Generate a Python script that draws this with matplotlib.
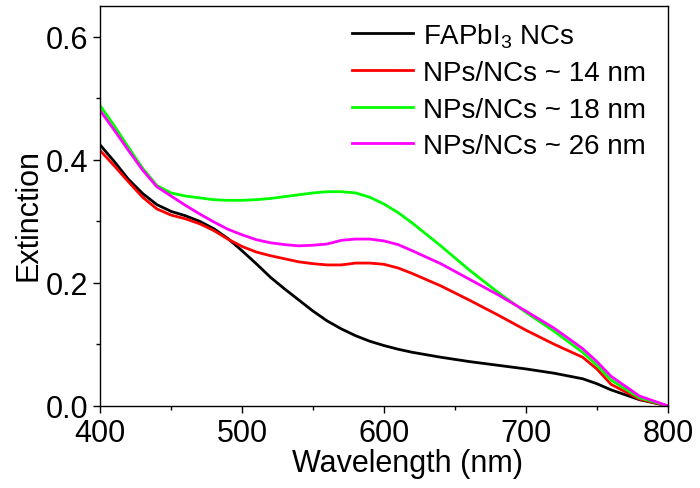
import numpy as np
from matplotlib import pyplot as plt
from matplotlib.ticker import MultipleLocator

plt.rcParams['font.family'] = ['Liberation Sans', 'DejaVu Sans']
plt.rcParams['mathtext.default'] = 'regular'

# wavelength grid (nm) shared by all spectra
wavelength = [400, 410, 420, 430, 440, 450, 460, 470, 480, 490, 500, 510, 520,
              530, 540, 550, 560, 570, 580, 590, 600, 610, 620, 640, 660, 680,
              700, 720, 740, 750, 760, 780, 800]

fapbi3_ncs = [0.424, 0.397, 0.368, 0.345, 0.327, 0.316, 0.309, 0.300, 0.288,
              0.272, 0.252, 0.231, 0.209, 0.190, 0.172, 0.154, 0.138, 0.125,
              0.114, 0.105, 0.098, 0.092, 0.087, 0.079, 0.072, 0.066, 0.060,
              0.053, 0.044, 0.036, 0.026, 0.010, 0.000]

nps_14nm = [0.415, 0.390, 0.364, 0.339, 0.320, 0.310, 0.304, 0.296, 0.285,
            0.271, 0.259, 0.250, 0.244, 0.239, 0.234, 0.231, 0.229, 0.229,
            0.232, 0.232, 0.230, 0.224, 0.215, 0.195, 0.172, 0.148, 0.123,
            0.100, 0.079, 0.060, 0.035, 0.011, 0.000]

nps_18nm = [0.488, 0.455, 0.420, 0.386, 0.358, 0.346, 0.341, 0.338, 0.335,
            0.334, 0.334, 0.335, 0.337, 0.340, 0.343, 0.346, 0.348, 0.348,
            0.346, 0.339, 0.328, 0.314, 0.297, 0.260, 0.221, 0.185, 0.152,
            0.121, 0.087, 0.066, 0.042, 0.013, 0.000]

nps_26nm = [0.480, 0.448, 0.415, 0.383, 0.356, 0.341, 0.326, 0.312, 0.299,
            0.287, 0.278, 0.270, 0.265, 0.262, 0.260, 0.261, 0.263, 0.269,
            0.271, 0.271, 0.268, 0.262, 0.252, 0.231, 0.206, 0.181, 0.154,
            0.126, 0.093, 0.072, 0.048, 0.016, 0.000]

labels = [r'FAPbI$_3$ NCs', 'NPs/NCs ~ 14 nm', 'NPs/NCs ~ 18 nm', 'NPs/NCs ~ 26 nm']
colors = ['#000000', '#ff0000', '#00ff00', '#ff00ff']

fig = plt.figure(figsize=(7, 4.89), dpi=100)
ax = fig.add_axes([0.143, 0.168, 0.811, 0.818])

for y, lab, c in zip([fapbi3_ncs, nps_14nm, nps_18nm, nps_26nm], labels, colors):
    ax.plot(wavelength, y, color=c, lw=2.0, label=lab)

ax.set_xlim(400, 800)
ax.set_ylim(0, 0.65)
ax.xaxis.set_major_locator(MultipleLocator(100))
ax.xaxis.set_minor_locator(MultipleLocator(50))
ax.yaxis.set_major_locator(MultipleLocator(0.2))
ax.yaxis.set_minor_locator(MultipleLocator(0.1))
ax.tick_params(which='both', direction='out', width=1, labelsize=22)
ax.tick_params(which='major', length=5)
ax.tick_params(which='minor', length=3)
ax.yaxis.set_major_formatter(plt.FormatStrFormatter('%.1f'))
for s in ax.spines.values():
    s.set_linewidth(1)

ax.set_xlabel('Wavelength (nm)', fontsize=22)
ax.set_ylabel('Extinction', fontsize=22)
ax.xaxis.set_label_coords(0.542, -0.105)
ax.yaxis.set_label_coords(-0.100, 0.48)

ax.legend(loc='upper left', bbox_to_anchor=(0.444, 0.962), frameon=False,
          fontsize=20, borderpad=0, borderaxespad=0, handlelength=2.2,
          handletextpad=0.35, labelspacing=0.38)

fig.savefig('out.png', dpi=100)
